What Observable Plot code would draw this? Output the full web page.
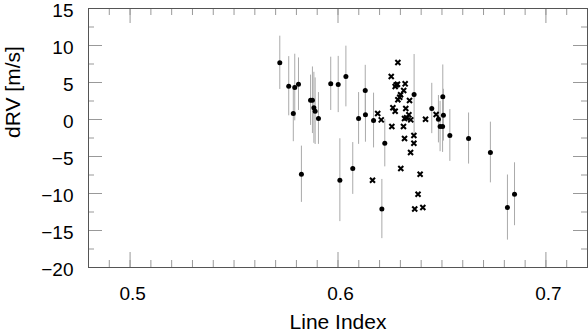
<!DOCTYPE html>
<html>
<head>
<meta charset="utf-8">
<script src="https://cdn.jsdelivr.net/npm/d3@7"></script>
<script src="https://cdn.jsdelivr.net/npm/@observablehq/plot@0.6"></script>
<style>
  html, body { margin: 0; padding: 0; background: #fff; }
  #chart svg { display: block; overflow: visible; }
</style>
</head>
<body>
<div id="chart"></div>
<script>
// Filled-circle series with error bars
const dotX = [0.572, 0.5763, 0.5785, 0.5792, 0.581, 0.5824, 0.5868, 0.5877, 0.5884, 0.589, 0.5906, 0.5965, 0.6001, 0.6009, 0.6038, 0.6071, 0.6099, 0.6131, 0.6132, 0.6171, 0.6211, 0.6225, 0.6366, 0.6451, 0.6483, 0.6491, 0.6503, 0.6504, 0.6507, 0.6538, 0.6628, 0.6733, 0.6815, 0.6849];
const dotY = [7.66, 4.5, 0.8, 4.32, 4.77, -7.4, 2.6, 2.6, 1.58, 1.12, 0.14, 4.82, 4.73, -8.2, 5.81, -6.62, 0.14, 3.92, 0.63, -0.14, -12.1, -3.2, 3.38, 1.49, 0.04, -0.95, -0.95, 3.07, 0.58, -2.16, -2.57, -4.46, -11.9, -10.1];
const dotErr = [3.6, 4.0, 3.8, 4.5, 3.55, 3.8, 3.4, 4.5, 4.8, 4.5, 3.5, 3.6, 3.8, 5.6, 4.1, 3.5, 3.5, 3.4, 3.7, 3.7, 4.0, 3.2, 5.4, 3.4, 3.2, 3.4, 3.5, 4.3, 3.5, 3.5, 3.45, 4.1, 4.4, 4.25];

// Cross series (no error bars)
const crossX = [0.6288, 0.6256, 0.6286, 0.628, 0.6275, 0.6323, 0.6316, 0.6301, 0.6297, 0.6288, 0.6344, 0.6264, 0.6275, 0.6326, 0.6191, 0.6208, 0.6341, 0.632, 0.633, 0.635, 0.6421, 0.6472, 0.6259, 0.6315, 0.6365, 0.632, 0.6365, 0.6349, 0.6302, 0.6395, 0.6166, 0.6385, 0.6369, 0.6408];
const crossY = [7.7, 5.81, 4.77, 4.68, 4.46, 4.82, 3.92, 3.34, 3.01, 2.66, 2.57, 1.58, 1.12, 1.49, 0.81, -0.05, 0.63, 0.14, 0.23, -0.05, 0.04, 0.68, -0.95, -0.95, -2.16, -2.57, -3.2, -4.46, -6.62, -7.39, -8.2, -10.1, -12.1, -11.9];

// Axis ticks
const xDomain = [0.48, 0.72];
const yDomain = [-20, 15];
const xMajorTicks = [0.5, 0.6, 0.7];
const xMinorTicks = d3.range(48, 73).map(v => v / 100);
const yMajorTicks = [-20, -15, -10, -5, 0, 5, 10, 15];
const yMinorTicks = d3.range(-20, 15.01, 2.5);
const xLabel = "Line Index";
const yLabel = "dRV [m/s]";

const dots = dotX.map((x, i) => ({x, y: dotY[i], e: dotErr[i]}));
const crosses = crossX.map((x, i) => ({x, y: crossY[i]}));

const W = 588, H = 332;
const mL = 88, mR = 1, mT = 8, mB = 65;
const innerW = W - mL - mR, innerH = H - mT - mB;
const tickColor = "#999";
const font = "'Liberation Sans', Arial, Helvetica, sans-serif";

const chart = Plot.plot({
  width: W,
  height: H,
  marginLeft: mL,
  marginRight: mR,
  marginTop: mT,
  marginBottom: mB,
  style: {fontFamily: font, color: "#000", background: "#fff", overflow: "visible"},
  x: {domain: xDomain},
  y: {domain: yDomain},
  marks: [
    // inward ticks, bottom & top
    Plot.ruleX(xMinorTicks, {x: d => d, insetTop: innerH - 7, stroke: tickColor}),
    Plot.ruleX(xMinorTicks, {x: d => d, insetBottom: innerH - 7, stroke: tickColor}),
    Plot.ruleX(xMajorTicks, {x: d => d, insetTop: innerH - 15, stroke: tickColor}),
    Plot.ruleX(xMajorTicks, {x: d => d, insetBottom: innerH - 15, stroke: tickColor}),
    // inward ticks, left & right
    Plot.ruleY(yMinorTicks, {y: d => d, insetRight: innerW - 6, stroke: tickColor}),
    Plot.ruleY(yMinorTicks, {y: d => d, insetLeft: innerW - 6, stroke: tickColor}),
    Plot.ruleY(yMajorTicks, {y: d => d, insetRight: innerW - 14, stroke: tickColor}),
    Plot.ruleY(yMajorTicks, {y: d => d, insetLeft: innerW - 14, stroke: tickColor}),
    Plot.axisX({ticks: xMajorTicks, tickSize: 0, tickPadding: 19, fontSize: 19, dx: 2.5, label: null, tickFormat: d => d.toFixed(1)}),
    Plot.axisY({ticks: yMajorTicks, tickSize: 0, tickPadding: 15, fontSize: 19, dy: 2, label: null}),
    // error bars
    Plot.ruleX(dots, {x: "x", y1: d => d.y - d.e, y2: d => d.y + d.e, stroke: "#aaa", strokeWidth: 1}),
    // points
    Plot.dot(dots, {x: "x", y: "y", r: 2.5, fill: "#000", stroke: "none"}),
    Plot.dot(crosses, {x: "x", y: "y", symbol: "times", r: 2.4, stroke: "#000", strokeWidth: 2, fill: "none"}),
    Plot.frame({stroke: "#555", strokeWidth: 1}),
    Plot.text([xLabel], {frameAnchor: "bottom", dy: 61, fontSize: 21, fill: "#000"}),
    Plot.text([yLabel], {frameAnchor: "left", dx: -75, rotate: -90, fontSize: 21, fill: "#000"})
  ]
});

document.getElementById("chart").appendChild(chart);
</script>
</body>
</html>
